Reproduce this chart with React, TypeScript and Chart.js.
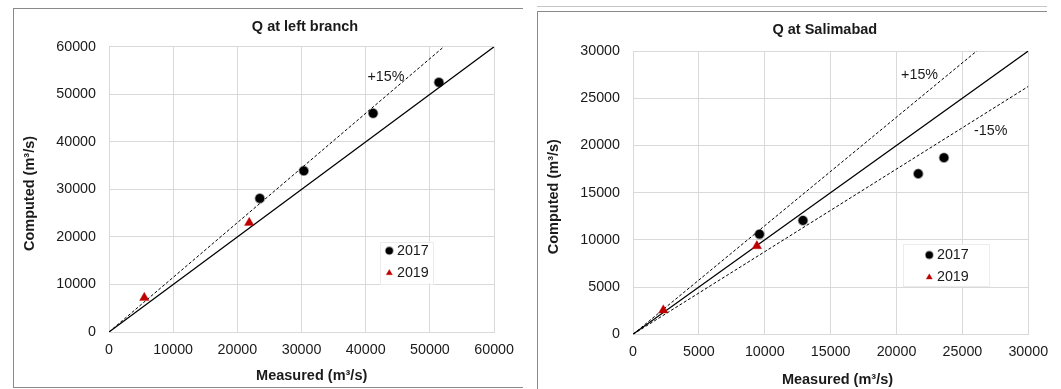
import { useEffect, useRef } from 'react';
import { Chart, registerables } from 'chart.js';

Chart.register(...registerables);

const FONT = '"Liberation Sans", Arial, Helvetica, sans-serif';

// ---------- Data: left panel ----------
const leftTitle = 'Q at left branch';
const leftMeasured2017 = [23500, 30350, 41150, 51400];
const leftComputed2017 = [28100, 33900, 46000, 52500];
const leftMeasured2019 = [5500, 21850];
const leftComputed2019 = [7200, 23000];
const leftOneToOneX = [0, 60000];
const leftOneToOneY = [0, 60000];
const leftPlus15X = [0, 52174];
const leftPlus15Y = [0, 60000];
const leftTicks = [0, 10000, 20000, 30000, 40000, 50000, 60000];

// ---------- Data: right panel ----------
const rightTitle = 'Q at Salimabad';
const rightMeasured2017 = [9600, 12900, 21650, 23600];
const rightComputed2017 = [10600, 12050, 17000, 18700];
const rightMeasured2019 = [2300, 9400];
const rightComputed2019 = [2550, 9350];
const rightOneToOneX = [0, 30000];
const rightOneToOneY = [0, 30000];
const rightPlus15X = [0, 26087];
const rightPlus15Y = [0, 30000];
const rightMinus15X = [0, 30000];
const rightMinus15Y = [0, 26250];
const rightTicks = [0, 5000, 10000, 15000, 20000, 25000, 30000];

const seriesLabels = ['2017', '2019'];
const xAxisTitle = 'Measured (m³/s)';
const yAxisTitle = 'Computed (m³/s)';

type Band = { label: string; x: number[]; y: number[]; labelAt: [number, number] };
type Panel = {
  title: string;
  m17: number[]; c17: number[]; m19: number[]; c19: number[];
  lineX: number[]; lineY: number[];
  bands: Band[];
  ticks: number[]; max: number;
  layout: { top: number; right: number; yWidth: number; xHeight: number };
  titlePos: [number, number]; xTitlePos: [number, number]; yTitlePos: [number, number];
  legend: { x: number; y: number; box: [number, number, number, number] };
};

const leftPanel: Panel = {
  title: leftTitle,
  m17: leftMeasured2017, c17: leftComputed2017, m19: leftMeasured2019, c19: leftComputed2019,
  lineX: leftOneToOneX, lineY: leftOneToOneY,
  bands: [{ label: '+15%', x: leftPlus15X, y: leftPlus15Y, labelAt: [43150, 53600] }],
  ticks: leftTicks, max: 60000,
  layout: { top: 37.7, right: 20, yWidth: 95, xHeight: 55 },
  titlePos: [291, 17.8], xTitlePos: [297.7, 366.9], yTitlePos: [15.5, 184.5],
  legend: { x: 375.3, y: 241.7, box: [366, 232.7, 53.3, 41.6] },
};

const rightPanel: Panel = {
  title: rightTitle,
  m17: rightMeasured2017, c17: rightComputed2017, m19: rightMeasured2019, c19: rightComputed2019,
  lineX: rightOneToOneX, lineY: rightOneToOneY,
  bands: [
    { label: '+15%', x: rightPlus15X, y: rightPlus15Y, labelAt: [21750, 27450] },
    { label: '-15%', x: rightMinus15X, y: rightMinus15Y, labelAt: [27150, 21550] },
  ],
  ticks: rightTicks, max: 30000,
  layout: { top: 38, right: 32.7, yWidth: 95, xHeight: 54.7 },
  titlePos: [286.8, 17], xTitlePos: [299.5, 367], yTitlePos: [15.6, 183.7],
  legend: { x: 391.3, y: 242, box: [365.3, 231.3, 86, 42.4] },
};

const TEXT = '#1a1a1a';
const GRID = '#d9d9d9';

function pts(xs: number[], ys: number[]) {
  return xs.map((x, i) => ({ x, y: ys[i] }));
}

function panelPlugin(p: Panel) {
  return {
    id: 'panelDecor',
    afterLayout(chart: any) {
      const lg = chart.legend;
      if (!lg) return;
      lg.left = p.legend.x - 8.5;
      lg.top = p.legend.y - 15.15;
      lg.right = lg.left + Math.max(lg.width, 80);
      lg.bottom = lg.top + Math.max(lg.height, 60);
      if (!lg.__wrapped) {
        const orig = lg.draw;
        lg.draw = function (...args: any[]) {
          const ctx: CanvasRenderingContext2D = chart.ctx;
          const [bx, by, bw, bh] = p.legend.box;
          ctx.save();
          ctx.fillStyle = '#ffffff';
          ctx.fillRect(bx, by, bw, bh);
          ctx.strokeStyle = '#ececec';
          ctx.lineWidth = 1;
          ctx.strokeRect(Math.round(bx) + 0.5, Math.round(by) + 0.5, Math.round(bw), Math.round(bh));
          ctx.restore();
          return orig.apply(this, args);
        };
        lg.__wrapped = true;
      }
    },
    afterDraw(chart: any) {
      const ctx: CanvasRenderingContext2D = chart.ctx;
      const xs = chart.scales.x;
      const ys = chart.scales.y;
      ctx.save();
      ctx.fillStyle = TEXT;
      ctx.textAlign = 'center';
      ctx.textBaseline = 'middle';
      ctx.font = `bold 14.5px ${FONT}`;
      ctx.fillText(p.title, p.titlePos[0], p.titlePos[1]);
      ctx.fillText(xAxisTitle, p.xTitlePos[0], p.xTitlePos[1]);
      ctx.save();
      ctx.translate(p.yTitlePos[0], p.yTitlePos[1]);
      ctx.rotate(-Math.PI / 2);
      ctx.fillText(yAxisTitle, 0, 0);
      ctx.restore();
      ctx.font = `14.3px ${FONT}`;
      for (const b of p.bands) {
        ctx.fillText(b.label, xs.getPixelForValue(b.labelAt[0]), ys.getPixelForValue(b.labelAt[1]));
      }
      ctx.restore();
    },
  };
}

function makeChart(canvas: HTMLCanvasElement, p: Panel) {
  const datasets: any[] = [
    {
      label: seriesLabels[0],
      data: pts(p.m17, p.c17),
      pointStyle: 'circle',
      pointRadius: 4.4,
      pointHoverRadius: 4.4,
      backgroundColor: '#000000',
      borderColor: 'rgba(0,0,0,0.4)',
      borderWidth: 1.8,
      showLine: false,
      inLegend: true,
    },
    {
      label: seriesLabels[1],
      data: pts(p.m19, p.c19),
      pointStyle: 'triangle',
      pointRadius: 5.5,
      pointHoverRadius: 5.5,
      backgroundColor: '#c00000',
      borderColor: 'rgba(192,0,0,0.35)',
      borderWidth: 1,
      showLine: false,
      inLegend: true,
    },
    {
      label: '1:1',
      data: pts(p.lineX, p.lineY),
      showLine: true,
      pointRadius: 0,
      borderColor: '#000000',
      borderWidth: 1.3,
      fill: false,
    },
    ...p.bands.map((b) => ({
      label: b.label,
      data: pts(b.x, b.y),
      showLine: true,
      pointRadius: 0,
      borderColor: '#000000',
      borderWidth: 1,
      borderDash: [3, 2],
      fill: false,
    })),
  ];

  const scaleCommon = (isX: boolean) => ({
    type: 'linear' as const,
    min: 0,
    max: p.max,
    afterBuildTicks: (s: any) => {
      s.ticks = p.ticks.map((value) => ({ value }));
    },
    afterFit: (s: any) => {
      if (isX) s.height = p.layout.xHeight;
      else s.width = p.layout.yWidth;
    },
    grid: { color: GRID, lineWidth: 1, drawTicks: false },
    border: { color: GRID, width: 1 },
    ticks: {
      color: TEXT,
      font: { family: FONT, size: 14.3 },
      padding: isX ? 9 : 13,
      maxRotation: 0,
      autoSkip: false,
      callback: (v: any) => String(v),
    },
  });

  return new Chart(canvas, {
    type: 'scatter',
    data: { datasets },
    plugins: [panelPlugin(p) as any],
    options: {
      responsive: false,
      animation: false,
      events: [],
      layout: { padding: { top: p.layout.top, right: p.layout.right, left: 0, bottom: 0 } },
      scales: {
        x: { ...scaleCommon(true), position: 'bottom' },
        y: { ...scaleCommon(false), position: 'left' },
      },
      plugins: {
        title: { display: false },
        tooltip: { enabled: false },
        legend: {
          display: true,
          position: 'chartArea' as any,
          align: 'start',
          labels: {
            usePointStyle: true,
            boxWidth: 1,
            boxHeight: 5,
            padding: 8,
            color: TEXT,
            font: { family: FONT, size: 14.3 },
            filter: (item: any, data: any) => !!data.datasets[item.datasetIndex].inLegend,
          },
        },
      },
    } as any,
  });
}

export default function App() {
  const leftRef = useRef<HTMLCanvasElement>(null);
  const rightRef = useRef<HTMLCanvasElement>(null);

  useEffect(() => {
    const a = makeChart(leftRef.current!, leftPanel);
    const b = makeChart(rightRef.current!, rightPanel);
    return () => {
      a.destroy();
      b.destroy();
    };
  }, []);

  const frame = '1px solid #8a8a8a';
  return (
    <div style={{ position: 'absolute', left: 0, top: 0, width: 1061, height: 389, background: '#ffffff', overflow: 'hidden' }}>
      <div style={{ position: 'absolute', left: 13, top: 8, width: 510, height: 380, borderTop: frame, borderLeft: frame, borderBottom: frame, boxSizing: 'border-box' }} />
      <div style={{ position: 'absolute', left: 537, top: 6, width: 510, height: 1, background: '#c6c6c6' }} />
      <div style={{ position: 'absolute', left: 537, top: 11, width: 510, height: 378, borderTop: frame, borderLeft: frame, boxSizing: 'border-box' }} />
      <canvas ref={leftRef} width={509} height={378} style={{ position: 'absolute', left: 14, top: 9 }} />
      <canvas ref={rightRef} width={523} height={376} style={{ position: 'absolute', left: 538, top: 13 }} />
    </div>
  );
}
